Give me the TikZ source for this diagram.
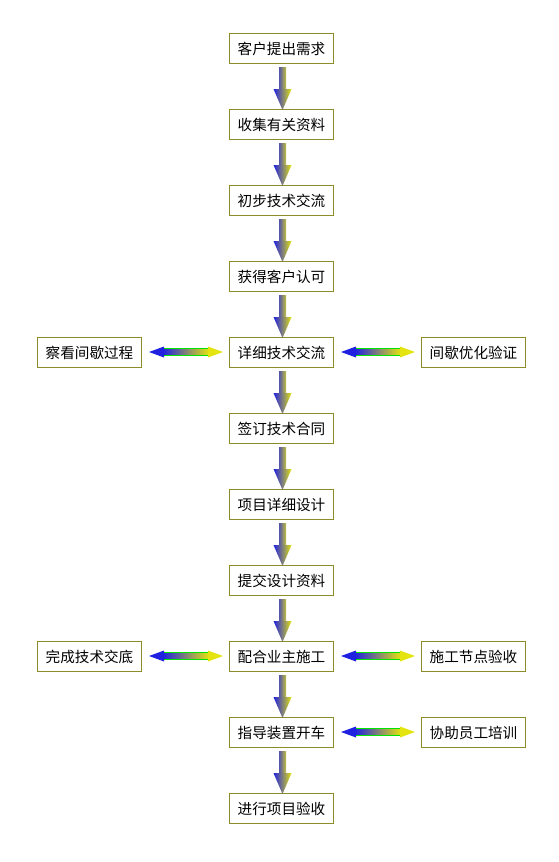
\documentclass[tikz,border=0pt]{standalone}
\usepackage{fontspec}
\newfontfamily\cjk{Noto Sans CJK SC}
\usetikzlibrary{positioning,calc}

\definecolor{boxline}{RGB}{140,140,40}
\definecolor{headblue}{RGB}{32,32,224}
\definecolor{headyellow}{RGB}{228,228,16}
\definecolor{shaftblue}{RGB}{84,84,168}
\definecolor{shaftyellow}{RGB}{192,192,64}
\definecolor{edgegreen}{RGB}{0,230,0}

% thick arrow from one box down to the next
\newcommand{\flowdown}[2]{%
  \shade[left color=shaftblue, right color=shaftyellow]
    ($(#1.south)+(-2.5,-3)$) rectangle ($(#1.south)+(4.5,-25)$);
  \shade[left color=headblue, right color=headyellow]
    ($(#1.south)+(-8,-25)$) -- ($(#1.south)+(10,-25)$) -- ($(#2.north)+(1,-1)$) -- cycle;
}
% double arrow between two boxes side by side
\newcommand{\flowside}[2]{%
  \coordinate (p) at ($(#1.east)+(7,0.5)$);
  \coordinate (q) at ($(#2.west)+(-6,0.5)$);
  \shade[left color=headblue, right color=headyellow]
    ($(p)+(14,2.6)$) rectangle ($(q)+(-14,-2.6)$);
  \draw[edgegreen, line width=0.9pt] ($(p)+(14,3.1)$) -- ($(q)+(-14,3.1)$)
    ($(p)+(14,-3.1)$) -- ($(q)+(-14,-3.1)$);
  \fill[headblue] (p) -- ($(p)+(15,5.5)$) -- ($(p)+(15,-5.5)$) -- cycle;
  \fill[headyellow] (q) -- ($(q)+(-15,5.5)$) -- ($(q)+(-15,-5.5)$) -- cycle;
}

\begin{document}
\begin{tikzpicture}[x=1pt, y=1pt, node distance=45pt and 87pt,
    box/.style={draw=boxline, line width=1pt, minimum width=104pt,
      minimum height=30pt, inner sep=0pt, font=\cjk\fontsize{14.6}{14.6}\selectfont}]
    \useasboundingbox (0,0) rectangle (558,-862);
    \node [box] at (281.5,-48.5)          (A) {客户提出需求};
    \node [box] [below=of A]              (B) {收集有关资料};
    \node [box] [below=of B]              (C) {初步技术交流};
    \node [box] [below=of C]              (D) {获得客户认可};
    \node [box] [below=of D]              (E) {详细技术交流};
    \node [box] [below=of E]              (F) {签订技术合同};
    \node [box] [below=of F]              (G) {项目详细设计};
    \node [box] [below=of G]              (H) {提交设计资料};
    \node [box] [below=of H]              (I) {配合业主施工};
    \node [box] [below=of I]              (J) {指导装置开车};
    \node [box] [below=of J]              (K) {进行项目验收};
    \node [box] [left=of E]               (Ea) {察看间歇过程};
    \node [box] [right=of E]              (Eb) {间歇优化验证};
    \node [box] [left=of I]               (Ia) {完成技术交底};
    \node [box] [right=of I]              (Ib) {施工节点验收};
    \node [box] [right=of J]              (Jb) {协助员工培训};
    \foreach \a/\b in {A/B,B/C,C/D,D/E,E/F,F/G,G/H,H/I,I/J,J/K}
      \flowdown{\a}{\b};
    \foreach \a/\b in {Ea/E,E/Eb,Ia/I,I/Ib,J/Jb}
      \flowside{\a}{\b};
\end{tikzpicture}
\end{document}
